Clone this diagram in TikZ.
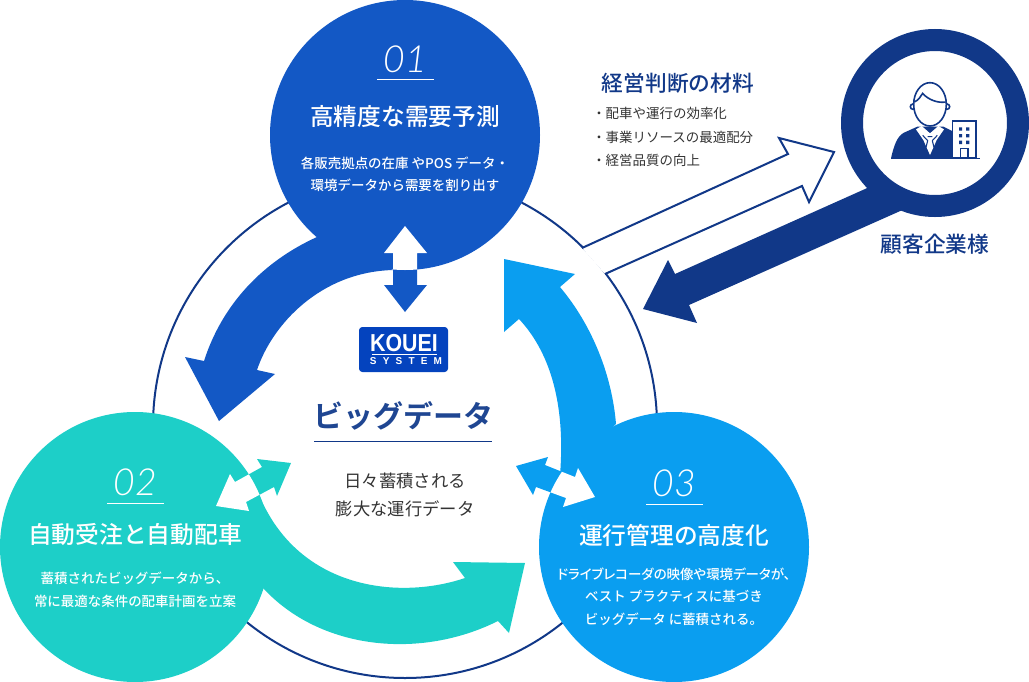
\documentclass[tikz,border=0pt]{standalone}
\usepackage{fontspec}
\setmainfont[BoldFont={Noto Sans CJK JP Bold}]{Noto Sans CJK JP}
\newfontfamily\midfont{Noto Sans CJK JP Medium}
\newfontfamily\numfont[ItalicFont={Lato Light Italic}]{Lato Light}
\newfontfamily\logofont{Liberation Sans}
\usetikzlibrary{positioning}
\definecolor{softnavy}{RGB}{17,56,136}
\definecolor{softtitle}{RGB}{31,70,146}
\definecolor{softblue}{RGB}{19,88,197}
\definecolor{softteal}{RGB}{29,207,200}
\definecolor{softsky}{RGB}{10,158,240}
\definecolor{logoblue}{RGB}{4,67,190}
\definecolor{softink}{RGB}{51,51,51}
\tikzset{
  bigcircle/.style={circle,minimum size=202.5pt,inner sep=0pt},
  numtext/.style={text=white,font=\numfont\itshape\fontsize{28pt}{30pt}\selectfont},
  titletext/.style={text=white,font=\midfont\fontsize{17.8pt}{20pt}\selectfont},
  bodytext/.style={text=white,align=center,font=\midfont\fontsize{10.1pt}{16.9pt}\selectfont},
  whiterule/.style={draw=white,line width=.75pt},
  navyline/.style={draw=softnavy,line width=1.5pt},
  headtext/.style={text=softnavy,font=\midfont\fontsize{16.3pt}{18pt}\selectfont},
  greytext/.style={text=softink,align=center,font=\fontsize{13pt}{21pt}\selectfont},
  listtext/.style={text=softink,anchor=west,inner sep=0pt,font=\fontsize{10.1pt}{12pt}\selectfont},
  icon/.style={draw=softnavy,line width=1.2pt,fill=white},
}
\newcommand{\arrowup}{(405,226)--(427,253)--(417,253)--(417,285)--(427,285)--(405,312)--(384,285)--(393,285)--(393,253)--(384,253)--cycle}
\newcommand{\arrowleft}{(291,463)--(277,496)--(274,487)--(246,502)--(249,511)--(216,506)--(230,474)--(235,482)--(262,467)--(257,459)--cycle}
\newcommand{\arrowright}{(516,466)--(548,457)--(545,465)--(575,477)--(578,468)--(595,497)--(563,507)--(566,498)--(536,487)--(533,495)--cycle}
\begin{document}
\begin{tikzpicture}[x=.75pt,y=-.75pt]
\useasboundingbox (0,0) rectangle (1029,682);
% ring and outlined arrow
\draw[navyline] (405,426) circle[radius=252];
\fill[white] (582,248)--(788,154)--(779,138)--(834,152)--(809,202)--(802,186)--(605,274)--cycle;
\draw[navyline] (582,248)--(788,154)--(779,138)--(834,152)--(809,202)--(802,186)--(605,274);
% customer
\fill[softnavy] (874,185)--(907,208)--(689,305)--(697,323)--(643,309)--(668,260)--(675,274)--cycle;
\node[circle,draw=softnavy,fill=white,line width=16.5pt,minimum size=124.5pt,inner sep=0pt] (client) at (935,123) {};
\begin{scope}[shift={(880,70)},x=.25pt,y=-.25pt]
\fill[softnavy] (33,265) .. controls (42,225) and (52,198) .. (72,188) -- (112,170) -- (190,170) -- (222,186) -- (222,265) -- cycle;
\fill[white] (108,178)--(125,168)--(150,190)--(175,168)--(192,178)--(170,210)--(150,255)--(130,210)--cycle;
\draw[draw=softnavy,line width=.8pt] (128,196)--(143,212)--(138,232) (172,196)--(157,212)--(162,232) (143,200)--(157,200);
\draw[icon] (99,110) circle[radius=8];
\draw[icon] (201,110) circle[radius=8];
\draw[icon] (150,103) ellipse[x radius=49,y radius=65];
\draw[icon,fill=none] (103,96) .. controls (116,90) and (122,80) .. (128,70) .. controls (145,90) and (175,100) .. (197,96);
\draw[icon] (218,153) rectangle (288,263);
\fill[softnavy] (237,172) rectangle (246,182) (258,172) rectangle (268,182) (237,192) rectangle (246,202) (258,192) rectangle (268,202) (237,212) rectangle (246,222) (258,212) rectangle (268,222);
\draw[icon] (241,236) rectangle (264,263);
\draw[draw=softnavy,line width=1.2pt] (33,265)--(300,265);
\end{scope}
% three circles
\node[bigcircle,fill=softblue] (circa) at (405,135) {};
\node[bigcircle,fill=softteal] (circb) at (135,547) {};
\node[bigcircle,fill=softsky] (circc) at (674,547) {};
% curved arrows
\fill[softblue] (317,237) .. controls (262,262) and (222,305) .. (204,361) -- (185,357) -- (219,421) -- (275,374) -- (257,370) .. controls (272,325) and (320,272) .. (393,270) -- cycle;
\fill[softteal] (263,588) .. controls (320,650) and (420,660) .. (498,621) -- (509,633) -- (525,563) -- (453,562) -- (465,578) .. controls (400,600) and (300,590) .. (260,497) -- cycle;
\fill[softsky] (616,424) .. controls (612,375) and (592,325) .. (560,287) -- (575,274) -- (504,259) -- (504,332) -- (519,319) .. controls (548,350) and (566,400) .. (560,475) -- cycle;
% two-way arrows
\fill[softblue] \arrowup;
\fill[softteal] \arrowleft;
\fill[softsky] \arrowright;
\begin{scope}
\clip (405,135) circle[radius=135];
\fill[white] \arrowup;
\end{scope}
\begin{scope}
\clip (135,547) circle[radius=135];
\fill[white] \arrowleft;
\end{scope}
\begin{scope}
\clip (674,547) circle[radius=135];
\fill[white] \arrowright;
\end{scope}
% circle 01
\node[numtext] (numa) at (405,59) {01};
\draw[whiterule] (377,79)--(434,79);
\node[titletext,below=43pt of numa.center,anchor=center] (titlea) {高精度な需要予測};
\node[bodytext,below=43.5pt of titlea.center,anchor=center] (bodya) {各販売拠点の在庫 やPOS データ・\\環境データから需要を割り出す};
% circle 02
\node[numtext] (numb) at (135,482) {02};
\draw[whiterule] (107,503)--(164,503);
\node[titletext,below=39pt of numb.center,anchor=center] (titleb) {自動受注と自動配車};
\node[bodytext,below=42pt of titleb.center,anchor=center] (bodyb) {蓄積されたビッグデータから、\\常に最適な条件の配車計画を立案};
% circle 03
\node[numtext] (numc) at (674,483) {03};
\draw[whiterule] (646,504)--(703,504);
\node[titletext,below=39pt of numc.center,anchor=center] (titlec) {運行管理の高度化};
\node[bodytext,below=46pt of titlec.center,anchor=center] (bodyc) {{\addfontfeature{RawFeature=+palt}ドライブレコーダの映像や環境データが、}\\ベスト プラクティスに基づき\\ビッグデータ に蓄積される。};
% centre
\node[rounded corners=2.5pt,fill=logoblue,minimum width=66.75pt,minimum height=33.75pt,inner sep=0pt] (logo) at (403.5,349.5) {};
\node[text=white,font=\logofont\bfseries\fontsize{16pt}{16pt}\selectfont,inner sep=0pt,yscale=1.15,transform shape] (kouei) at (404,343.5) {KOUEI};
\draw[whiterule] (372,354)--(437,354);
\node[text=white,font=\logofont\bfseries\fontsize{7.5pt}{7pt}\selectfont\addfontfeature{LetterSpace=62},inner sep=0pt] (system) at (406,361.5) {SYSTEM};
\node[headtext,text=softtitle,font=\bfseries\fontsize{22.5pt}{24pt}\selectfont] (bigdata) at (403,416) {ビッグデータ};
\draw[draw=softnavy,line width=.75pt] (314,441)--(492,441);
\node[greytext,below=59.5pt of bigdata.center,anchor=center,xshift=1.5pt] (subtext) {日々蓄積される\\膨大な運行データ};
% materials
\node[headtext] (material) at (678,83) {経営判断の材料};
\node[listtext] (lista) at (592,113) {・配車や運行の効率化};
\node[listtext] (listb) at (592,137) {・事業リソースの最適配分};
\node[listtext] (listc) at (592,160) {・経営品質の向上};
\node[headtext,below=9pt of client.south] (clientname) {顧客企業様};
\end{tikzpicture}
\end{document}
